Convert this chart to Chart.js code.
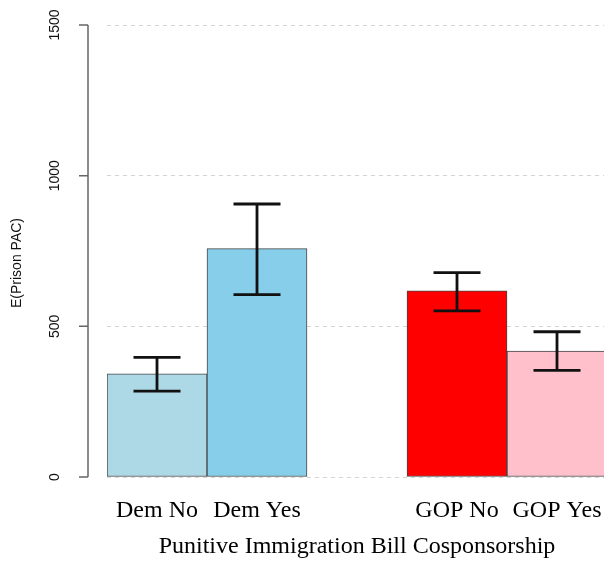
<!DOCTYPE html>
<html>
<head>
<meta charset="utf-8">
<script src="https://cdn.jsdelivr.net/npm/chart.js@4"></script>
<style>
  html, body { margin: 0; padding: 0; background: #fff; overflow: hidden; }
  #wrap { width: 604px; height: 562px; overflow: hidden; }
</style>
</head>
<body>
<div id="wrap"><canvas id="pacChart" width="610" height="562"></canvas></div>
<script>
const categories = ["Dem No", "Dem Yes", "", "GOP No", "GOP Yes"];
const means = [342, 758, null, 618, 418];
const ciLow = [285, 605, null, 551, 354];
const ciHigh = [397, 906, null, 678, 482];
const yTicks = [0, 500, 1000, 1500];
const barColors = ["#add8e6", "#87ceeb", "#ffffff", "#ff0000", "#ffc0cb"];

// error bars with caps
const errorBars = {
  id: "errorBars",
  afterDatasetsDraw(chart) {
    const ctx = chart.ctx;
    const y = chart.scales.y;
    const meta = chart.getDatasetMeta(0);
    ctx.save();
    ctx.strokeStyle = "#111";
    ctx.lineWidth = 2.8;
    meta.data.forEach((bar, i) => {
      if (ciLow[i] == null) return;
      const x = bar.x;
      const top = y.getPixelForValue(ciHigh[i]);
      const bot = y.getPixelForValue(ciLow[i]);
      ctx.beginPath();
      ctx.moveTo(x, top); ctx.lineTo(x, bot);
      ctx.moveTo(x - 23.5, top); ctx.lineTo(x + 23.5, top);
      ctx.moveTo(x - 23.5, bot); ctx.lineTo(x + 23.5, bot);
      ctx.stroke();
    });
    ctx.restore();
  }
};

// R-style detached y axis, rotated tick labels and the text labels
const rAxes = {
  id: "rAxes",
  afterDraw(chart) {
    const ctx = chart.ctx;
    const y = chart.scales.y;
    const x = chart.scales.x;
    const ax = chart.chartArea.left - 19;
    ctx.save();
    ctx.strokeStyle = "#666";
    ctx.lineWidth = 1.5;
    ctx.beginPath();
    ctx.moveTo(ax, y.getPixelForValue(yTicks[0]));
    ctx.lineTo(ax, y.getPixelForValue(yTicks[yTicks.length - 1]));
    yTicks.forEach(v => {
      const py = y.getPixelForValue(v);
      ctx.moveTo(ax, py); ctx.lineTo(ax - 9, py);
    });
    ctx.stroke();

    ctx.fillStyle = "#111";
    ctx.font = "14px 'Liberation Sans', Arial, sans-serif";
    ctx.textAlign = "center";
    ctx.textBaseline = "middle";
    yTicks.forEach(v => {
      ctx.save();
      ctx.translate(55, y.getPixelForValue(v));
      ctx.rotate(-Math.PI / 2);
      ctx.fillText(String(v), 0, 0);
      ctx.restore();
    });
    ctx.save();
    ctx.translate(17, 263);
    ctx.rotate(-Math.PI / 2);
    ctx.fillText("E(Prison PAC)", 0, 0);
    ctx.restore();

    ctx.fillStyle = "#000";
    ctx.font = "24px 'Liberation Serif', 'Times New Roman', serif";
    ctx.textBaseline = "alphabetic";
    categories.forEach((c, i) => {
      if (!c) return;
      ctx.fillText(c, x.getPixelForValue(i), 517);
    });
    ctx.fillText("Punitive Immigration Bill Cosponsorship",
      (chart.chartArea.left + chart.chartArea.right) / 2, 553);
    ctx.restore();
  }
};

new Chart(document.getElementById("pacChart").getContext("2d"), {
  type: "bar",
  data: {
    labels: categories,
    datasets: [{
      data: means,
      backgroundColor: barColors,
      borderColor: "#444",
      borderWidth: 1,
      borderSkipped: false,
      barPercentage: 1,
      categoryPercentage: 1
    }]
  },
  options: {
    responsive: false,
    animation: false,
    layout: { padding: { left: 107, right: 3, top: 25, bottom: 85 } },
    plugins: { legend: { display: false }, tooltip: { enabled: false } },
    scales: {
      x: { display: false, offset: true },
      y: {
        min: 0, max: 1500,
        afterBuildTicks(scale) { scale.ticks = yTicks.map(v => ({ value: v })); },
        ticks: { display: false },
        grid: { color: "#d4d4d4", lineWidth: 1, drawTicks: false },
        border: { display: false, dash: [4, 4] }
      }
    }
  },
  plugins: [errorBars, rAxes]
});
</script>
</body>
</html>
